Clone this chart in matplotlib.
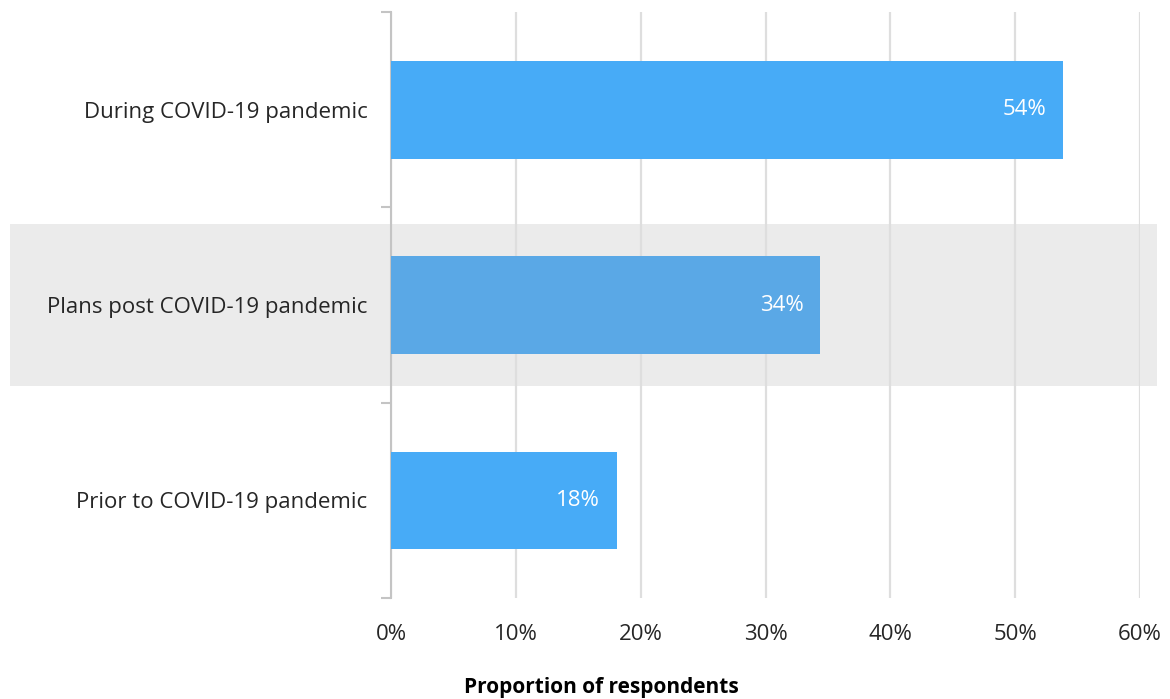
import matplotlib.pyplot as plt
import matplotlib.transforms as mtransforms
from matplotlib.patches import Rectangle
import numpy as np

# survey answers, top to bottom
categories = ['During COVID-19 pandemic', 'Plans post COVID-19 pandemic', 'Prior to COVID-19 pandemic']
shares = [0.538, 0.344, 0.181]
bar_colors = ['#47ABF7', '#5AA8E6', '#47ABF7']
x_ticks = [0, 0.1, 0.2, 0.3, 0.4, 0.5, 0.6]
x_labels = ['0%', '10%', '20%', '30%', '40%', '50%', '60%']

plt.rcParams['font.family'] = ['Open Sans', 'DejaVu Sans']

fig = plt.figure(figsize=(11.7, 6.99), dpi=100)
ax = fig.add_axes([0.3342, 0.1445, 0.6402, 0.8383])
ax.set_facecolor('none')

y = np.arange(len(categories))
ax.barh(y, shares, height=0.5, color=bar_colors, zorder=3)

# value labels inside the bar ends
for yi, v in zip(y, shares):
    ax.annotate(f'{v * 100:.0f}%', xy=(v, yi), xytext=(-12, 0), textcoords='offset points',
                ha='right', va='center', color='white', fontsize=16, zorder=4)

# grey highlight band behind the middle row, spanning the whole figure width
trans = mtransforms.blended_transform_factory(fig.transFigure, ax.transData)
band = Rectangle((10 / 1170, 1 - 0.413), 1147 / 1170, 0.826, transform=trans,
                 facecolor='#EBEBEB', edgecolor='none', zorder=0.2, clip_on=False)
ax.add_artist(band)

ax.set_xlim(0, 0.6)
ax.set_ylim(len(categories) - 0.5, -0.5)

ax.set_xticks(x_ticks)
ax.set_xticklabels(x_labels, fontsize=16, color='#262626')
ax.tick_params(axis='x', length=0, pad=19)
ax.xaxis.grid(True, color='#DEDEDE', linewidth=1.6)
ax.set_axisbelow(True)

ax.set_yticks(y)
ax.set_yticklabels(categories, fontsize=16, color='#262626')
ax.tick_params(axis='y', which='major', length=0, pad=17)
ax.set_yticks(np.arange(-0.5, len(categories)), minor=True)
ax.tick_params(axis='y', which='minor', length=7, width=1.5, color='#C4C4C4')

for side in ['top', 'right', 'bottom']:
    ax.spines[side].set_visible(False)
ax.spines['left'].set_color('#C4C4C4')
ax.spines['left'].set_linewidth(1.5)

ax.set_xlabel('Proportion of respondents', fontsize=15, fontweight='bold', color='black')
ax.xaxis.set_label_coords((601 - 391) / (1140 - 391), -(688 - 598) / (598 - 12))
ax.xaxis.label.set_va('center')

fig.savefig('out.png', dpi=100)
